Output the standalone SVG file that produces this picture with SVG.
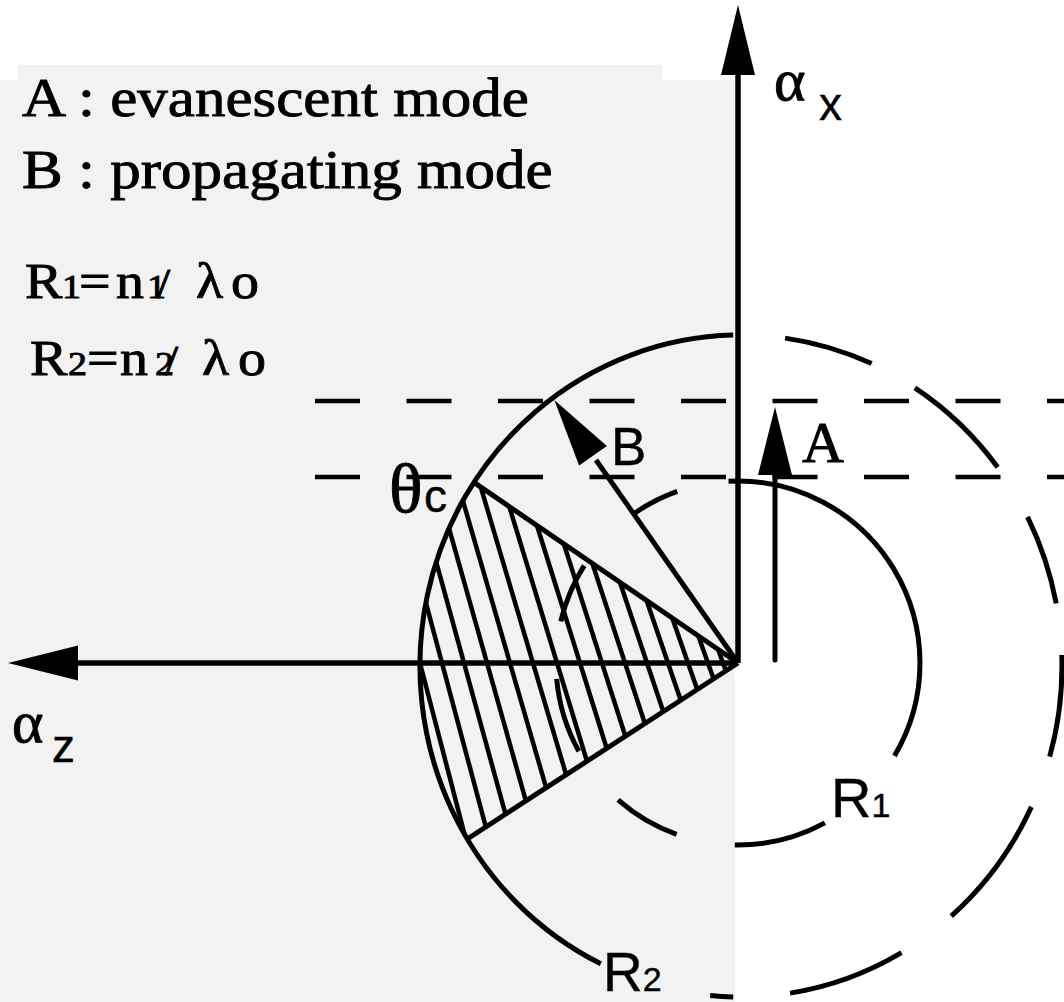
<svg xmlns="http://www.w3.org/2000/svg" width="1064" height="1002" viewBox="0 0 1064 1002">
<style>
.ln{fill:none;stroke:#000;stroke-width:5}
.ax{fill:none;stroke:#000;stroke-width:5.5}
.hl{fill:none;stroke:#000;stroke-width:4.5}
.dl{fill:none;stroke:#000;stroke-width:4.5;stroke-dasharray:45 46.5}
.hd{fill:#000;stroke:none}
.serif{font-family:"Liberation Serif","Times New Roman",serif;fill:#000;stroke:#000;stroke-width:0.9}
.sans{font-family:"Liberation Sans",Arial,sans-serif;fill:#000;stroke:#000;stroke-width:0.4}
</style>
<defs>
<clipPath id="sector">
<path d="M738,663 L473.9,482.4 A321,331 0 0 0 467.3,839 Z"/>
</clipPath>
</defs>
<rect x="0" y="0" width="1064" height="1002" fill="#fff"/>
<path id="background" d="M0,80 H18 V65 H662 V80 H735 V1002 H0 Z" fill="#f2f2f2"/>

<g id="dashed-levels">
<line class="dl" x1="315" y1="401" x2="1064" y2="401"/>
<line class="dl" x1="315" y1="477" x2="1064" y2="477"/>
</g>

<g id="hatch" clip-path="url(#sector)">
<line class="hl" x1="362" y1="440" x2="476.4" y2="880"/>
<line class="hl" x1="382.4" y1="440" x2="500" y2="880"/>
<line class="hl" x1="402.7" y1="440" x2="523.6" y2="880"/>
<line class="hl" x1="424.1" y1="440" x2="548.2" y2="880"/>
<line class="hl" x1="445.3" y1="440" x2="572.9" y2="880"/>
<line class="hl" x1="466.8" y1="440" x2="597.4" y2="880"/>
<line class="hl" x1="489" y1="440" x2="623.2" y2="880"/>
<line class="hl" x1="510.2" y1="440" x2="647.9" y2="880"/>
<line class="hl" x1="530.6" y1="440" x2="671.4" y2="880"/>
<line class="hl" x1="551.9" y1="440" x2="696.2" y2="880"/>
<line class="hl" x1="572.3" y1="440" x2="719.7" y2="880"/>
<line class="hl" x1="591.7" y1="440" x2="742.2" y2="880"/>
<line class="hl" x1="610.2" y1="440" x2="763.7" y2="880"/>
<line class="hl" x1="628.8" y1="440" x2="785" y2="880"/>
<line class="hl" x1="642.7" y1="440" x2="801.1" y2="880"/>
</g>

<g id="circle-R2">
<path class="ln" d="M600.8,963.8 A321,331 0 0 1 733.2,335.1"/>
<path class="ln" d="M785.1,338.1 A321,331 0 0 1 871.6,363.6 M914.9,387.8 A321,331 0 0 1 997.7,467.3 M1027.5,516.8 A321,331 0 0 1 1056.2,603.4 M1061.8,655 A321,331 0 0 1 1049.7,756.7 M1031.4,806.9 A321,331 0 0 1 951.2,916.2 M901.5,952.6 A321,331 0 0 1 790.1,993.1 M733.2,996.9 A321,331 0 0 1 710.2,995.5"/>
</g>

<g id="circle-R1">
<path class="ln" d="M894.5,755.9 A182,182 0 0 0 728.5,481.3"/>
<path class="ln" d="M677.2,491.4 A182,182 0 0 0 633.6,513.9 M584.2,565.7 A182,182 0 0 0 560.8,621.4 M556.7,678.9 A182,182 0 0 0 578.8,751.2 M618.1,799.9 A182,182 0 0 0 676.6,834.4 M734.8,845 A182,182 0 0 0 824.9,822.9"/>
</g>

<g id="sector-edges">
<line class="ln" x1="738" y1="663" x2="473.9" y2="482.4"/>
<line class="ln" x1="738" y1="663" x2="467.3" y2="839"/>
</g>

<g id="connectors">
<line class="ax" x1="738" y1="663" x2="738" y2="70"/>
<polygon class="hd" points="738,5 755,75 721,75"/>
<line class="ax" x1="738" y1="663" x2="74" y2="663"/>
<polygon class="hd" points="8,663 78,645.5 78,680.5"/>
<line class="ln" x1="775" y1="660" x2="775" y2="470" stroke-linecap="round"/>
<polygon class="hd" points="775,407 792,475 758,475"/>
<line class="ln" x1="738" y1="663" x2="596" y2="460"/>
<polygon class="hd" points="554.3,400 606.9,446 579.1,465.4"/>
</g>

<g id="legend">
<text class="serif" font-size="55" transform="translate(22,116) scale(1.11,1)">A : evanescent mode</text>
<text class="serif" font-size="55" transform="translate(22,188) scale(1.11,1)">B : propagating mode</text>
<text class="serif" font-size="50" transform="translate(25,298) scale(1.12,1)"><tspan x="0">R</tspan><tspan x="33" font-size="34">1</tspan><tspan x="48.2">=</tspan><tspan x="81.3">n</tspan><tspan x="108.9" font-size="34">1</tspan><tspan x="117.9" font-size="42">/</tspan><tspan x="152.7">λ</tspan><tspan x="183.9" font-size="50">o</tspan></text>
<text class="serif" font-size="50" transform="translate(30,375) scale(1.12,1)"><tspan x="0">R</tspan><tspan x="33.9" font-size="34">2</tspan><tspan x="50.9">=</tspan><tspan x="80.4">n</tspan><tspan x="111.6" font-size="34">2</tspan><tspan x="120.5" font-size="42">/</tspan><tspan x="153.6">λ</tspan><tspan x="185.7" font-size="50">o</tspan></text>
</g>

<g id="axis-labels">
<text class="serif" font-size="60" x="774" y="100">α</text>
<text class="sans" font-size="46" x="819" y="120">x</text>
<text class="serif" font-size="60" x="12" y="742">α</text>
<text class="sans" font-size="46" x="52" y="762">z</text>
</g>

<g id="mode-labels">
<text class="serif" font-size="58" x="802" y="462">A</text>
<text class="sans" font-size="53" x="611" y="465">B</text>
<text class="serif" font-size="70" x="389" y="512">θ</text>
<text class="sans" font-size="46" x="424" y="512">c</text>
</g>

<g id="radius-labels">
<text class="sans" font-size="56" x="831" y="817">R<tspan font-size="34">1</tspan></text>
<text class="sans" font-size="55" x="603" y="991">R<tspan font-size="34">2</tspan></text>
</g>
</svg>
